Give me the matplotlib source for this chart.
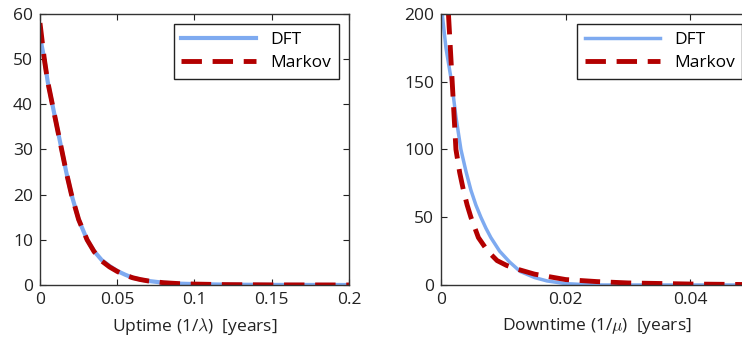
import matplotlib
matplotlib.use("Agg")
import matplotlib.pyplot as plt

plt.rcParams['font.family'] = ['Open Sans', 'DejaVu Sans']
plt.rcParams['mathtext.fontset'] = 'cm'

# uptime panel
up_x = [0, 0.0028, 0.005, 0.008, 0.011, 0.014, 0.017, 0.0204, 0.025, 0.0305, 0.035, 0.04, 0.045,
        0.05, 0.055, 0.06, 0.065, 0.07, 0.08, 0.09, 0.1, 0.12, 0.15, 0.2]
up_dft = [55, 50, 45, 40, 35, 30, 25, 20, 14.5, 10, 7.5, 5.5, 4.2, 3.1, 2.3, 1.6, 1.2, 0.9, 0.5,
          0.3, 0.2, 0.08, 0.02, 0]
up_markov = [58, 50, 45, 40, 35, 30, 25, 20, 14.5, 10, 7.4, 5.3, 4.0, 3.0, 2.2, 1.6, 1.2, 0.9, 0.5,
             0.3, 0.2, 0.08, 0.02, 0]

# downtime panel
dn_dft_x = [0.0002, 0.0008, 0.0017, 0.0024, 0.0032, 0.004, 0.0048, 0.0056, 0.0064, 0.0072, 0.008,
            0.0094, 0.011, 0.0127, 0.015, 0.017, 0.02, 0.023, 0.026, 0.05]
dn_dft = [200, 175, 150, 124, 100, 84, 70, 59, 50, 42, 35, 25, 17, 10, 5.5, 3, 1, 0.3, 0, 0]
dn_mk_x = [0.0012, 0.0018, 0.0024, 0.003, 0.0036, 0.0042, 0.0048, 0.006, 0.0075, 0.009, 0.0105,
           0.012, 0.015, 0.02, 0.025, 0.03, 0.04, 0.05]
dn_markov = [200, 150, 100, 83, 70, 59, 50, 35, 25, 18, 14.5, 12, 8, 4, 2.5, 1.5, 0.7, 0.3]

blue = '#7eaaf0'
red = '#b30000'

fig = plt.figure(figsize=(7.42, 3.40), dpi=100)
ax1 = fig.add_axes([0.0539, 0.1618, 0.4164, 0.797])
ax2 = fig.add_axes([0.5943, 0.1618, 0.4202, 0.797])


def style(ax):
    ax.tick_params(direction='in', top=True, right=True, labelsize=12.5, length=4,
                   colors='#222222', pad=5)
    for s in ax.spines.values():
        s.set_color('#333333')
        s.set_linewidth(1.0)
    ax.legend(loc='upper right', fancybox=False, edgecolor='#222222', fontsize=12.5,
              handlelength=4.3, borderpad=0.45, framealpha=1, borderaxespad=0.6,
              labelspacing=0.4)


ax1.plot(up_x, up_dft, color=blue, lw=3, label='DFT')
ax1.plot(up_x, up_markov, color=red, lw=3.5, ls=(0, (4.2, 2.2)), label='Markov')
ax1.set_xlim(0, 0.2)
ax1.set_ylim(0, 60)
ax1.set_xticks([0, 0.05, 0.1, 0.15, 0.2])
ax1.set_xticklabels(['0', '0.05', '0.1', '0.15', '0.2'])
ax1.set_yticks(range(0, 61, 10))
ax1.set_xlabel(r'Uptime (1/$\lambda$)  [years]', fontsize=12.5, color='#222222', labelpad=6)
style(ax1)

ax2.plot(dn_dft_x, dn_dft, color=blue, lw=2.5, label='DFT')
ax2.plot(dn_mk_x, dn_markov, color=red, lw=3.5, ls=(0, (4.2, 2.2)), label='Markov')
ax2.set_xlim(0, 0.05)
ax2.set_ylim(0, 200)
ax2.set_xticks([0, 0.02, 0.04])
ax2.set_xticklabels(['0', '0.02', '0.04'])
ax2.set_yticks([0, 50, 100, 150, 200])
ax2.set_xlabel(r'Downtime (1/$\mu$)  [years]', fontsize=12.5, color='#222222', labelpad=6)
style(ax2)

fig.savefig('out.png', dpi=100)
